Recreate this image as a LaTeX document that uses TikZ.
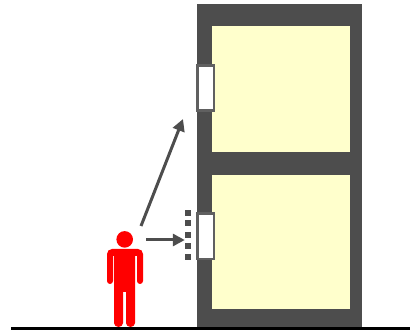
\documentclass[tikz,border=0pt]{standalone}
\usepackage{tikz}
\usepackage{xcolor}
\usetikzlibrary{arrows.meta}
\definecolor{wall}{RGB}{77,77,77}
\definecolor{pane}{RGB}{255,255,204}
\definecolor{frame}{RGB}{96,96,96}
\definecolor{person}{RGB}{255,0,0}
\tikzset{
  sensorbox/.style={draw=frame, line width=2.8pt, fill=white, minimum width=16.7pt, minimum height=45.4pt, inner sep=0pt},
  dotbox/.style={fill=wall, minimum width=6pt, minimum height=6pt, inner sep=0pt},
  sightline/.style={draw=wall, line width=3pt, -{Triangle[length=12pt,width=12pt]}}
}
\begin{document}
\begin{tikzpicture}[x=1pt,y=-1pt]
  \useasboundingbox (0,0) rectangle (410,331);

  % Building
  \fill[wall] (197,4) rectangle (362,327);
  \fill[pane] (212,26) rectangle (350,152);
  \fill[pane] (212,175) rectangle (350,309);

  % Ground
  \fill[black] (11,327) rectangle (410,330);

  % Sensors
  \node[sensorbox] (upper) at (205.7,88) {};
  \node[sensorbox] (lower) at (205.7,236.3) {};

  % Dots
  \foreach \y/\name in {212.7/a, 223.5/b, 234.7/c, 245.7/d, 256.7/e} {
    \node[dotbox] (dot\name) at (188,\y) {};
  }

  % Person
  \node[circle, fill=person, minimum size=16.6pt, inner sep=0pt] (head) at (124.7,239.4) {};
  \fill[person] (107,281) [rounded corners=5pt] -- (107,249) -- (143,249) [sharp corners] -- (143,281)
    arc[start angle=0, end angle=180, x radius=3pt, y radius=-3pt] -- (137,256) -- (135,256)
    -- (135,323) arc[start angle=0, end angle=180, x radius=4.5pt, y radius=-4pt] -- (126,292) -- (123,292)
    -- (123,323) arc[start angle=0, end angle=180, x radius=4.5pt, y radius=-4pt] -- (114,256) -- (113,256)
    -- (113,281) arc[start angle=0, end angle=180, x radius=3pt, y radius=-3pt] -- cycle;

  % Arrows
  \coordinate (gazestart) at (141,226);
  \coordinate (gazeend) at (183,119);
  \coordinate (scanstart) at (146,240);
  \draw[sightline] (gazestart) -- (gazeend);
  \draw[sightline] (scanstart) -- (dotc.west |- scanstart);
\end{tikzpicture}
\end{document}
